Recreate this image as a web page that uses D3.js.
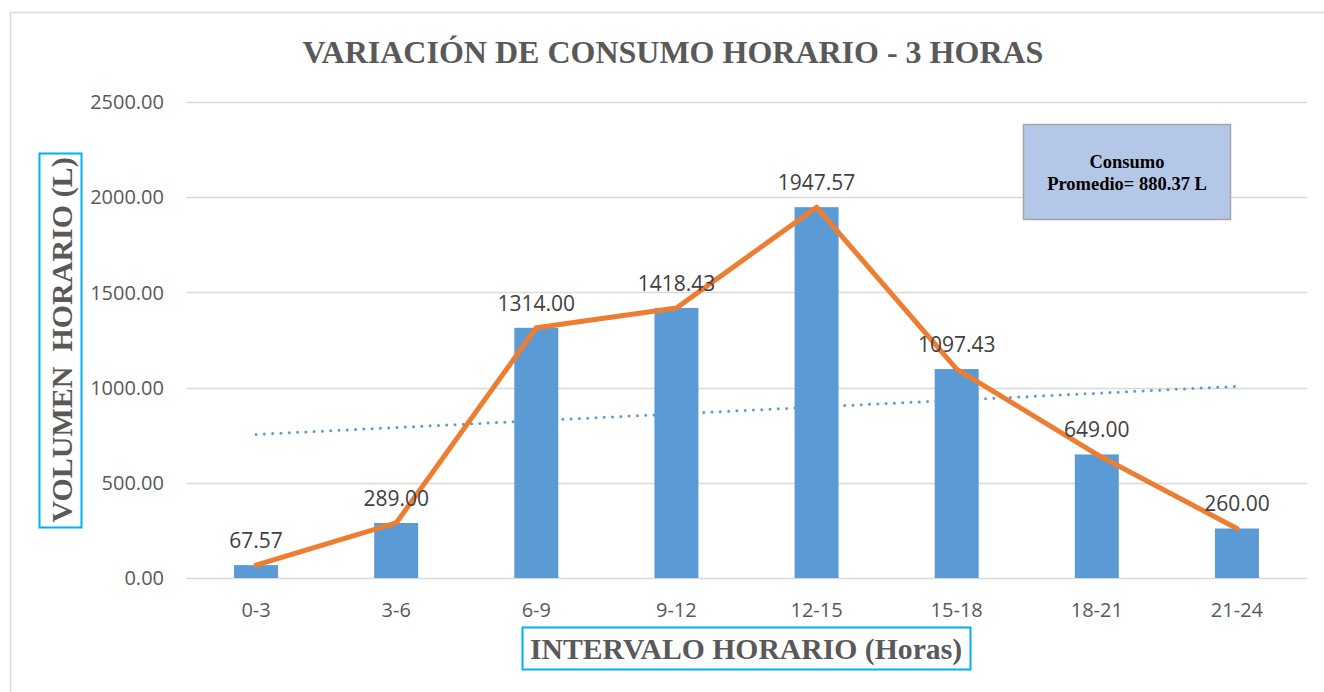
<!DOCTYPE html>
<html>
<head>
<meta charset="utf-8">
<script src="https://cdn.jsdelivr.net/npm/d3@7"></script>
<style>
  body { margin: 0; background: #fff; }
  svg { display: block; }
</style>
</head>
<body>
<svg id="chart" width="1324" height="692"></svg>
<script>
// chart data
const intervals = ['0-3', '3-6', '6-9', '9-12', '12-15', '15-18', '18-21', '21-24'];
const volumes = [67.57, 289.00, 1314.00, 1418.43, 1947.57, 1097.43, 649.00, 260.00];
const yTicks = [0, 500, 1000, 1500, 2000, 2500];
const titleText = 'VARIACIÓN DE CONSUMO HORARIO - 3 HORAS';
const yLabel = 'VOLUMEN\u00a0\u00a0HORARIO (L)';
const xLabel = 'INTERVALO HORARIO (Horas)';
const noteLines = ['Consumo', 'Promedio= 880.37 L'];

const svg = d3.select('#chart');
const margin = { left: 186, right: 17, top: 102, bottom: 114 };
const W = 1324, H = 692;

// outer chart frame (runs off right/bottom edge)
svg.append('rect')
  .attr('x', 10.5).attr('y', 12.5)
  .attr('width', 1340).attr('height', 700)
  .attr('fill', '#fff')
  .attr('stroke', '#d9d9d9')
  .attr('stroke-width', 1.5);

const x = d3.scaleBand()
  .domain(intervals)
  .range([margin.left, W - margin.right])
  .paddingInner(0.686)
  .paddingOuter(0.343);

const y = d3.scaleLinear()
  .domain([0, 2500])
  .range([H - margin.bottom, margin.top]);

const cx = d => x(d) + x.bandwidth() / 2;

// gridlines
svg.append('g')
  .selectAll('line')
  .data(yTicks)
  .join('line')
  .attr('x1', margin.left).attr('x2', W - margin.right)
  .attr('y1', d => Math.round(y(d)) + 0.5)
  .attr('y2', d => Math.round(y(d)) + 0.5)
  .attr('stroke', '#d9d9d9')
  .attr('stroke-width', 1.3);

// y tick labels
svg.append('g')
  .selectAll('text')
  .data(yTicks)
  .join('text')
  .attr('x', 164)
  .attr('y', d => y(d))
  .attr('dy', '0.36em')
  .attr('text-anchor', 'end')
  .attr('font-family', 'Open Sans, sans-serif')
  .attr('font-size', 20)
  .attr('fill', '#595959')
  .text(d => d3.format('.2f')(d));

// x tick labels
svg.append('g')
  .selectAll('text')
  .data(intervals)
  .join('text')
  .attr('x', d => cx(d))
  .attr('y', H - margin.bottom + 39)
  .attr('text-anchor', 'middle')
  .attr('font-family', 'Open Sans, sans-serif')
  .attr('font-size', 20)
  .attr('fill', '#595959')
  .text(d => d);

// bars
svg.append('g')
  .selectAll('rect')
  .data(volumes)
  .join('rect')
  .attr('x', (d, i) => x(intervals[i]))
  .attr('y', d => y(d))
  .attr('width', x.bandwidth())
  .attr('height', d => y(0) - y(d))
  .attr('fill', '#5b9bd5');

// linear trendline (least squares over category index)
const n = volumes.length;
const xs = d3.range(1, n + 1);
const mx = d3.mean(xs), my = d3.mean(volumes);
const slope = d3.sum(xs, (xi, i) => (xi - mx) * (volumes[i] - my)) / d3.sum(xs, xi => (xi - mx) ** 2);
const icpt = my - slope * mx;
const trend = [1, n].map(xi => ({ cat: intervals[xi - 1], v: icpt + slope * xi }));

svg.append('line')
  .attr('x1', cx(trend[0].cat)).attr('y1', y(trend[0].v))
  .attr('x2', cx(trend[1].cat)).attr('y2', y(trend[1].v))
  .attr('stroke', '#5b9bd5')
  .attr('stroke-width', 3)
  .attr('stroke-linecap', 'round')
  .attr('stroke-dasharray', '0 8.3');

// orange line
const line = d3.line()
  .x((d, i) => cx(intervals[i]))
  .y(d => y(d));

svg.append('path')
  .datum(volumes)
  .attr('d', line)
  .attr('fill', 'none')
  .attr('stroke', '#ed7d31')
  .attr('stroke-width', 5)
  .attr('stroke-linejoin', 'round')
  .attr('stroke-linecap', 'round');

// data labels
svg.append('g')
  .selectAll('text')
  .data(volumes)
  .join('text')
  .attr('x', (d, i) => cx(intervals[i]))
  .attr('y', d => y(d) - 17)
  .attr('text-anchor', 'middle')
  .attr('font-family', 'Open Sans, sans-serif')
  .attr('font-size', 21)
  .attr('fill', '#404040')
  .text(d => d3.format('.2f')(d));

// title
svg.append('text')
  .attr('x', 673)
  .attr('y', 63)
  .attr('text-anchor', 'middle')
  .attr('font-family', 'Liberation Serif, Times New Roman, serif')
  .attr('font-weight', 'bold')
  .attr('font-size', 32)
  .attr('fill', '#595959')
  .text(titleText);

// y axis title with box
svg.append('rect')
  .attr('x', 39.5).attr('y', 153.5)
  .attr('width', 42).attr('height', 374)
  .attr('fill', 'none')
  .attr('stroke', '#00b0f0')
  .attr('stroke-width', 2);

svg.append('text')
  .attr('transform', 'translate(72,340) rotate(-90)')
  .attr('text-anchor', 'middle')
  .attr('font-family', 'Liberation Serif, Times New Roman, serif')
  .attr('font-weight', 'bold')
  .attr('font-size', 30)
  .attr('fill', '#595959')
  .text(yLabel);

// x axis title with box
svg.append('rect')
  .attr('x', 522.5).attr('y', 627.5)
  .attr('width', 448).attr('height', 42)
  .attr('fill', 'none')
  .attr('stroke', '#00b0f0')
  .attr('stroke-width', 2);

svg.append('text')
  .attr('x', 746)
  .attr('y', 659)
  .attr('text-anchor', 'middle')
  .attr('font-family', 'Liberation Serif, Times New Roman, serif')
  .attr('font-weight', 'bold')
  .attr('font-size', 29.7)
  .attr('fill', '#595959')
  .text(xLabel);

// average note box
svg.append('rect')
  .attr('x', 1023.5).attr('y', 124.5)
  .attr('width', 207).attr('height', 95)
  .attr('fill', '#b4c7e7')
  .attr('stroke', '#a5a5a5')
  .attr('stroke-width', 1.5);

svg.append('g')
  .selectAll('text')
  .data(noteLines)
  .join('text')
  .attr('x', 1127)
  .attr('y', (d, i) => 168 + i * 22)
  .attr('text-anchor', 'middle')
  .attr('font-family', 'Liberation Serif, Times New Roman, serif')
  .attr('font-weight', 'bold')
  .attr('font-size', 18.5)
  .attr('fill', '#000')
  .text(d => d);
</script>
</body>
</html>
